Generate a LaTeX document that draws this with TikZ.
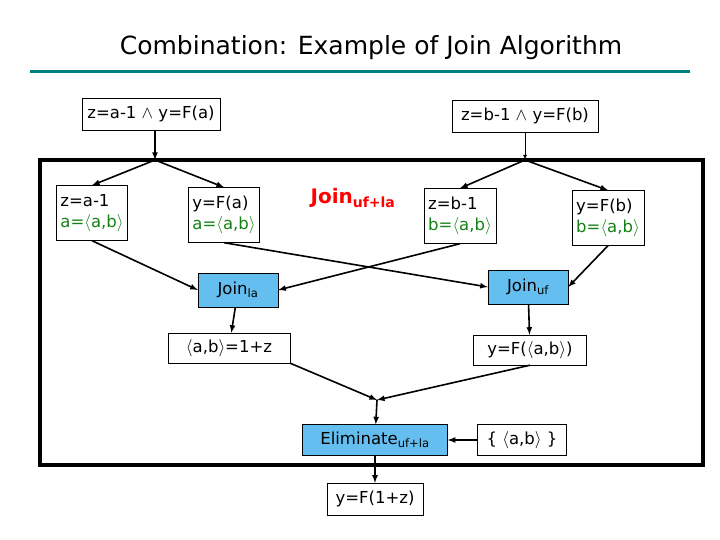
\documentclass[tikz,border=0pt]{standalone}
\usepackage{amsmath}
\usepackage{fontspec}
\setmainfont{DejaVu Sans}
\usetikzlibrary{positioning,arrows,shapes}
\definecolor{joinblue}{RGB}{100,190,240}
\definecolor{valgreen}{RGB}{20,130,20}
\definecolor{titleline}{RGB}{0,128,128}
\tikzset{
  box/.style={draw,thin,fill=white,inner sep=4pt,font=\fontsize{16.5}{21}\selectfont},
  op/.style={box,fill=joinblue},
  arr/.style={line width=1.6pt,-latex}
}
\begin{document}
\begin{tikzpicture}[x=1pt, y=-1pt]
		\useasboundingbox (0,0) rectangle (720,540);
		\node[font=\fontsize{25}{30}\selectfont] (title) at (371,48) {Combination: Example of Join Algorithm};
		\draw[titleline, line width=3pt] (30,72) -- (690,72);
		\draw[line width=4pt] (40,160) rectangle (703,465);
		% inputs
		\node[box, minimum width=138pt, minimum height=32pt] (inA) at (151,114) {z=a-1 $\wedge$ y=F(a)};
		\node[box, minimum width=146pt, minimum height=32pt] (inB) at (525,116) {z=b-1 $\wedge$ y=F(b)};
		\coordinate (sA) at (155,160);
		\coordinate (sB) at (525,160);
		% split constraints
		\begin{scope}[every node/.style={box, align=left, minimum height=55pt}]
			\node (za) at (92,213) {z=a-1\\\textcolor{valgreen}{a=$\langle$a,b$\rangle$}};
			\node (ya) at (224,215) {y=F(a)\\\textcolor{valgreen}{a=$\langle$a,b$\rangle$}};
			\node (zb) at (460,216) {z=b-1\\\textcolor{valgreen}{b=$\langle$a,b$\rangle$}};
			\node (yb) at (608,218) {y=F(b)\\\textcolor{valgreen}{b=$\langle$a,b$\rangle$}};
		\end{scope}
		\node[text=red, font=\bfseries\fontsize{20}{24}\selectfont] (juf) at (353,198) {Join$_{\text{uf+la}}$};
		% joins
		\node[op, minimum width=80pt, minimum height=34pt] (jla) at (238,290) {Join$_{\text{la}}$};
		\node[op, minimum width=80pt, minimum height=34pt] (jufb) at (528,287) {Join$_{\text{uf}}$};
		\node[box, minimum width=122pt, minimum height=30pt] (rla) at (229,348) {$\langle$a,b$\rangle$=1+z};
		\node[box, minimum width=113pt, minimum height=30pt] (ruf) at (530,350) {y=F($\langle$a,b$\rangle$)};
		\coordinate (m) at (377,400);
		\node[op, minimum width=145pt, minimum height=31pt] (elim) at (375,440) {Eliminate$_{\text{uf+la}}$};
		\node[box, minimum width=89pt, minimum height=31pt] (set) at (522,440) {\{ $\langle$a,b$\rangle$ \}};
		\node[box, minimum width=96pt, minimum height=32pt] (out) at (375,499) {y=F(1+z)};
		% connectors
		\draw[arr] (inA.south -| sA) -- (sA);
		\draw[arr, line width=0.8pt] (inB.south) -- (sB);
		\draw[arr] (sA) -- (za.north);
		\draw[arr] (sA) -- (ya.north);
		\draw[arr] (sB) -- (zb.north);
		\draw[arr] (sB) -- (yb.north);
		\draw[arr] (za.south) -- (jla.west);
		\draw[arr] (zb.south) -- (jla.east);
		\draw[arr] (ya.south) -- (jufb.west);
		\draw[arr] (yb.south) -- (jufb.east);
		\draw[arr] (jla) -- (rla);
		\draw[arr] (jufb) -- (ruf);
		\draw[arr] (rla.south east) -- (m);
		\draw[arr] (ruf.south) -- (m);
		\draw[arr] (m) -- (elim);
		\draw[arr] (set) -- (elim);
		\draw[arr] (elim) -- (out);
	\end{tikzpicture}
\end{document}
